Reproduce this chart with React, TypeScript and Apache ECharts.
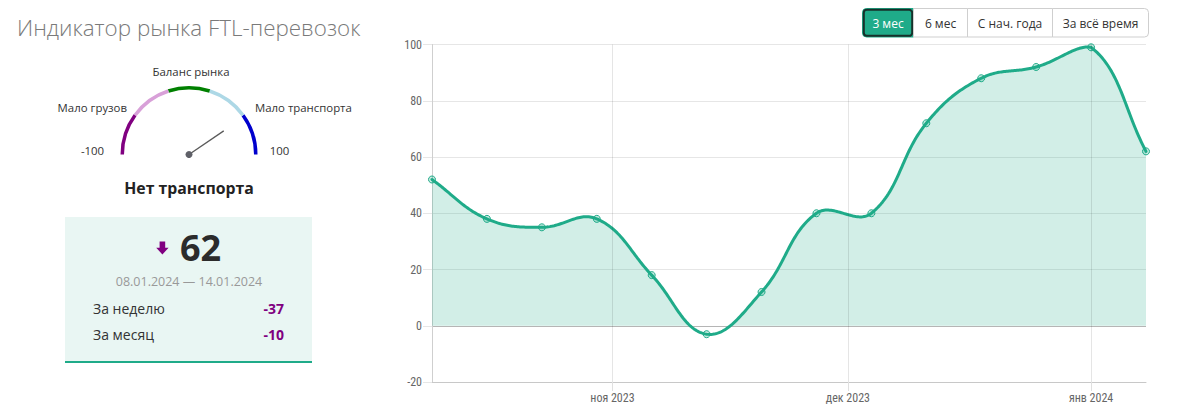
import { useEffect, useRef } from 'react';
import * as echarts from 'echarts';

// ---- data ----
const weekStarts = [
  '2023-10-09', '2023-10-16', '2023-10-23', '2023-10-30', '2023-11-06', '2023-11-13', '2023-11-20',
  '2023-11-27', '2023-12-04', '2023-12-11', '2023-12-18', '2023-12-25', '2024-01-01', '2024-01-08',
];
const indexValues = [52, 38, 35, 38, 18, -3, 12, 40, 40, 72, 88, 92, 99, 62];
const monthStarts = ['2023-11-01', '2023-12-01', '2024-01-01'];
const monthNames = ['янв', 'фев', 'мар', 'апр', 'май', 'июн', 'июл', 'авг', 'сен', 'окт', 'ноя', 'дек'];
const yMin = -20;
const yMax = 100;
const yStep = 20;
const rangeButtons = ['3 мес', '6 мес', 'С нач. года', 'За всё время'];
const gaugeMin = -100;
const gaugeMax = 100;
const gaugeZoneLabels = ['Мало грузов', 'Баланс рынка', 'Мало транспорта'];
const gaugeZoneColors = ['#800080', '#d8a0d8', '#008000', '#add8e6', '#0000cd'];
const gaugeStatus = 'Нет транспорта';
const titleText = 'Индикатор рынка FTL-перевозок';
const periodLabel = '08.01.2024 — 14.01.2024';
const changeLabels = ['За неделю', 'За месяц'];
const changeValues = [-37, -10];

const TEAL = '#1fab89';
const FILL = 'rgba(31,171,137,0.2)';
const FONT = "'Open Sans', 'Noto Sans', sans-serif";
const NARROW = "'Liberation Sans Narrow', 'Roboto Condensed', Roboto, sans-serif";
const TENSION = 0.4;

function utc(s: string) {
  const [y, m, d] = s.split('-').map(Number);
  return Date.UTC(y, m - 1, d);
}
function monthLabel(ts: number) {
  const d = new Date(ts);
  return `${monthNames[d.getUTCMonth()]} ${d.getUTCFullYear()}`;
}

const seriesData = weekStarts.map((d, i) => [utc(d), indexValues[i]]);
const xMin = utc(weekStarts[0]);
const xMax = utc(weekStarts[weekStarts.length - 1]);
const monthTs = monthStarts.map(utc);

// Cardinal-style spline (control points from neighbours, capped to the plot area)
function splineSamples(pts: number[][], left: number, top: number, right: number, bottom: number) {
  const n = pts.length;
  const cpPrev: number[][] = [];
  const cpNext: number[][] = [];
  const cap = (p: number[]) => [Math.max(Math.min(p[0], right), left), Math.max(Math.min(p[1], bottom), top)];
  for (let i = 0; i < n; i++) {
    const cur = pts[i];
    const prev = pts[i - 1] || cur;
    const next = pts[i + 1] || cur;
    const d01 = Math.hypot(cur[0] - prev[0], cur[1] - prev[1]);
    const d12 = Math.hypot(next[0] - cur[0], next[1] - cur[1]);
    let s01 = d01 / (d01 + d12);
    let s12 = d12 / (d01 + d12);
    if (isNaN(s01)) s01 = 0;
    if (isNaN(s12)) s12 = 0;
    const fa = TENSION * s01;
    const fb = TENSION * s12;
    cpPrev.push(cap([cur[0] - fa * (next[0] - prev[0]), cur[1] - fa * (next[1] - prev[1])]));
    cpNext.push(cap([cur[0] + fb * (next[0] - prev[0]), cur[1] + fb * (next[1] - prev[1])]));
  }
  const out: number[][] = [pts[0]];
  const steps = 40;
  for (let i = 0; i < n - 1; i++) {
    const p0 = pts[i];
    const c1 = cpNext[i];
    const c2 = cpPrev[i + 1];
    const p1 = pts[i + 1];
    for (let s = 1; s <= steps; s++) {
      const t = s / steps;
      const u = 1 - t;
      const a = u * u * u;
      const b = 3 * u * u * t;
      const c = 3 * u * t * t;
      const d = t * t * t;
      out.push([
        a * p0[0] + b * c1[0] + c * c2[0] + d * p1[0],
        a * p0[1] + b * c1[1] + c * c2[1] + d * p1[1],
      ]);
    }
  }
  return out;
}

export default function App() {
  const ref = useRef<HTMLDivElement>(null);
  useEffect(() => {
    if (!ref.current) return;
    const chart = echarts.init(ref.current, undefined, { renderer: 'svg' });
    const current = indexValues[indexValues.length - 1];

    const gaugeCx = 189;
    const gaugeCy = 154.5;
    const buttonEdges = [862, 913, 967, 1052, 1148];

    const graphic: any[] = [];
    graphic.push({
      type: 'text', x: 17, y: 27,
      style: { text: titleText, fill: '#7a7a7a', fontSize: 22.4, fontWeight: 300, fontFamily: FONT, verticalAlign: 'middle' },
    });
    // gauge labels
    const gl = { fill: '#333', fontSize: 11.4, fontFamily: FONT, verticalAlign: 'middle' };
    graphic.push({ type: 'text', x: 92.5, y: 150, style: { ...gl, text: String(gaugeMin), align: 'center' } });
    graphic.push({ type: 'text', x: 279.5, y: 150, style: { ...gl, text: String(gaugeMax), align: 'center' } });
    graphic.push({ type: 'text', x: 127, y: 107.5, style: { ...gl, text: gaugeZoneLabels[0], align: 'right' } });
    graphic.push({ type: 'text', x: 191, y: 71, style: { ...gl, text: gaugeZoneLabels[1], align: 'center' } });
    graphic.push({ type: 'text', x: 255, y: 107.5, style: { ...gl, text: gaugeZoneLabels[2], align: 'left' } });
    graphic.push({ type: 'text', x: 189, y: 188, style: { text: gaugeStatus, fill: '#222', fontSize: 15.8, fontWeight: 'bold', fontFamily: FONT, align: 'center', verticalAlign: 'middle' } });
    // summary box
    graphic.push({ type: 'rect', shape: { x: 65, y: 217, width: 247, height: 145 }, style: { fill: '#e9f6f3' } });
    graphic.push({ type: 'rect', shape: { x: 65, y: 361, width: 247, height: 2 }, style: { fill: TEAL } });
    graphic.push({
      type: 'polygon',
      shape: { points: [[159.6, 241.5], [165.2, 241.5], [165.2, 247.8], [168.6, 247.8], [162.4, 254.5], [156.2, 247.8], [159.6, 247.8]] },
      style: { fill: '#800080' },
    });
    graphic.push({ type: 'text', x: 180, y: 247, style: { text: String(current), fill: '#2b2b2b', fontSize: 36, fontWeight: 'bold', fontFamily: FONT, align: 'left', verticalAlign: 'middle' } });
    graphic.push({ type: 'text', x: 189, y: 281.5, style: { text: periodLabel, fill: '#999', fontSize: 12.5, fontFamily: FONT, align: 'center', verticalAlign: 'middle' } });
    changeLabels.forEach((lab, i) => {
      const y = 308.3 + i * 26;
      graphic.push({ type: 'text', x: 93, y, style: { text: lab, fill: '#333', fontSize: 14, fontFamily: FONT, align: 'left', verticalAlign: 'middle' } });
      graphic.push({ type: 'text', x: 284, y, style: { text: String(changeValues[i]), fill: '#800080', fontSize: 14, fontWeight: 'bold', fontFamily: FONT, align: 'right', verticalAlign: 'middle' } });
    });
    // range buttons
    rangeButtons.forEach((lab, i) => {
      const x0 = buttonEdges[i];
      const x1 = buttonEdges[i + 1];
      const active = i === 0;
      const last = i === rangeButtons.length - 1;
      if (active) {
        graphic.push({ type: 'rect', shape: { x: x0 + 0.5, y: 8.5, width: x1 - x0, height: 28.5, r: [4, 0, 0, 4] }, style: { fill: TEAL, stroke: TEAL, lineWidth: 1 } });
        graphic.push({ type: 'rect', shape: { x: x0 + 1.8, y: 9.8, width: x1 - x0 - 2.6, height: 26, r: 3 }, style: { fill: 'none', stroke: '#17302a', lineWidth: 2 } });
      } else {
        graphic.push({ type: 'rect', shape: { x: x0 + 0.5, y: 8.5, width: x1 - x0, height: 28.5, r: last ? [0, 4, 4, 0] : 0 }, style: { fill: '#fff', stroke: '#cfcfcf', lineWidth: 1 } });
      }
      graphic.push({
        type: 'text', x: (x0 + x1) / 2 + 0.5, y: 23,
        style: { text: lab, fill: active ? '#fff' : '#333', fontSize: 12, fontFamily: FONT, align: 'center', verticalAlign: 'middle' },
      });
    });

    const splitColors = ['#c8c8c8', '#b5b5b5', '#e6e6e6', '#e6e6e6', '#e6e6e6', '#e6e6e6', '#e6e6e6'];

    chart.setOption({
      animation: false,
      textStyle: { fontFamily: FONT },
      grid: { left: 432, top: 44.5, width: 714, height: 337.5, containLabel: false },
      xAxis: {
        type: 'value',
        min: xMin,
        max: xMax,
        axisLine: { show: true, onZero: false, lineStyle: { color: '#c8c8c8' } },
        axisTick: { show: true, customValues: monthTs, length: 9, lineStyle: { color: '#e0e0e0' } },
        axisLabel: { show: false },
        splitLine: { show: false },
      },
      yAxis: {
        type: 'value',
        min: yMin,
        max: yMax,
        interval: yStep,
        axisLine: { show: true, lineStyle: { color: '#cfcfcf' } },
        axisTick: { show: true, length: 9, lineStyle: { color: '#e6e6e6' } },
        axisLabel: { margin: 10, color: '#666', fontSize: 12, fontFamily: NARROW },
        splitLine: { show: true, lineStyle: { color: splitColors } },
      },
      series: [
        {
          type: 'custom',
          data: seriesData,
          encode: { x: 0, y: 1 },
          clip: false,
          silent: true,
          renderItem: (params: any, api: any) => {
            if (params.dataIndex !== 0) return null;
            const pts = seriesData.map((p) => api.coord(p));
            const tl = api.coord([xMin, yMax]);
            const br = api.coord([xMax, yMin]);
            const zeroY = api.coord([xMin, 0])[1];
            const curve = splineSamples(pts, tl[0], tl[1], br[0], br[1]);
            const area = curve.map((p) => [p[0], Math.min(p[1], zeroY)]);
            area.push([curve[curve.length - 1][0], zeroY]);
            area.push([curve[0][0], zeroY]);
            return {
              type: 'group',
              children: [
                { type: 'polygon', shape: { points: area }, style: { fill: FILL, stroke: 'none' } },
                { type: 'polyline', shape: { points: curve }, style: { fill: 'none', stroke: TEAL, lineWidth: 3, lineJoin: 'round', lineCap: 'round' } },
              ],
            };
          },
        },
        {
          type: 'line',
          data: seriesData,
          symbol: 'circle',
          symbolSize: 7,
          lineStyle: { opacity: 0, width: 0 },
          itemStyle: { color: 'rgba(31,171,137,0.25)', borderColor: TEAL, borderWidth: 1 },
          emphasis: { disabled: true },
          markLine: {
            silent: true,
            symbol: 'none',
            emphasis: { disabled: true },
            lineStyle: { color: 'rgba(0,0,0,0.1)', type: 'solid', width: 1 },
            label: { show: true, position: 'start', distance: 10, formatter: '{b}', color: '#666', fontSize: 12, fontFamily: NARROW },
            data: monthTs.map((ts) => ({ xAxis: ts, name: monthLabel(ts) })),
          },
        },
        {
          type: 'gauge',
          center: [gaugeCx, gaugeCy],
          radius: 68.5,
          startAngle: 180,
          endAngle: 0,
          min: gaugeMin,
          max: gaugeMax,
          axisLine: {
            lineStyle: {
              width: 3.5,
              color: gaugeZoneColors.map((c, i) => [(i + 1) / gaugeZoneColors.length, c]),
            },
          },
          axisTick: { show: false },
          splitLine: { show: false },
          axisLabel: { show: false },
          pointer: { icon: 'rect', length: 42, width: 1.3, itemStyle: { color: '#5a5a5a' } },
          anchor: { show: true, showAbove: true, size: 7, itemStyle: { color: '#5f6068' } },
          title: { show: false },
          detail: { show: false },
          data: [{ value: current }],
        },
      ],
      graphic,
    });
    return () => chart.dispose();
  }, []);
  return <div ref={ref} style={{ position: 'absolute', left: 0, top: 0, width: 1179, height: 417 }} />;
}
